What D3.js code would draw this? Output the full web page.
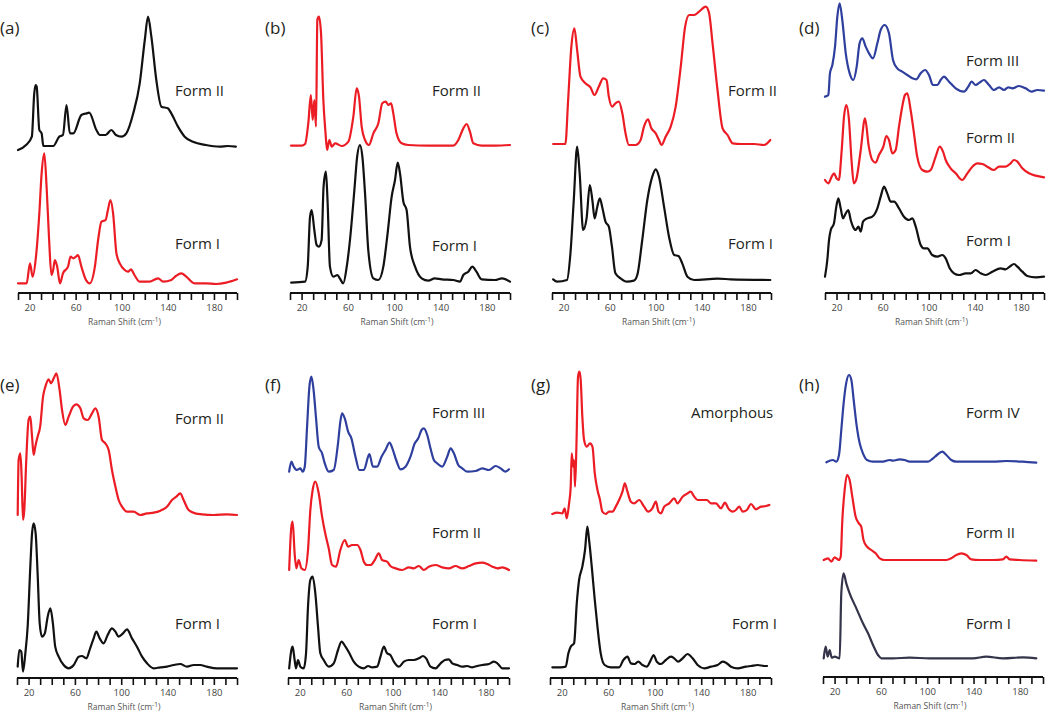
<!DOCTYPE html>
<html><head><meta charset="utf-8">
<script src="https://cdn.jsdelivr.net/npm/d3@7"></script>
<style>
html,body{margin:0;padding:0;background:#fff;}
svg{display:block;}
</style></head>
<body>
<svg id="chart" width="1050" height="718"></svg>
<script>
// ---------------- DATA: [Raman shift (cm-1), intensity (a.u.)] ----------------
const tickValuesMinor = [10,20,30,40,50,60,70,80,90,100,110,120,130,140,150,160,170,180,190,200];
const tickLabels = [20,60,100,140,180];
const shiftDomain = [10,200];

const a_FormII = [[10,-10],[17,5],[22,30],[24.1,160],[25.3,185],[26.2,180],[28.5,50],[30.5,40],[32,2],[40.6,2],[45.8,30],[49,35],[52.1,125],[55,40],[58,40],[65,95],[69.5,100],[71.8,102],[78,50],[81,35],[86,35],[91,50],[95,35],[99.7,30],[104,40],[110,100],[115.6,190],[120,320],[122.8,390],[125.7,330],[130,200],[134.4,120],[140,115],[143,100],[148.8,60],[154.6,30],[161.8,15],[173,5],[185,0],[192,2],[199,0]];
const a_FormI = [[10,0],[17.5,0],[20.4,60],[22.7,20],[25.6,80],[28.5,210],[30.5,330],[32.8,390],[34.8,290],[37,130],[39,25],[40.5,40],[42,70],[44,50],[46.4,0],[49,30],[53.4,50],[55.6,80],[58,75],[60.3,80],[62,85],[65,50],[69,10],[72.3,0],[76.7,50],[79.5,130],[82.4,185],[86,190],[88,220],[90.2,250],[92.5,210],[95.4,90],[98.3,60],[102.6,40],[105.5,35],[108,42],[111,25],[115.6,5],[124,5],[131.5,15],[136,5],[143,10],[147,22],[151.7,30],[156,20],[163,0],[173,0],[181.8,-2],[190.7,2],[200,12]];

const b_FormII = [[10.9,0],[20,0],[23,5],[25.8,67],[28,152],[29.6,77],[31,137],[32.5,57],[33.6,377],[35,387],[36.8,337],[38.8,137],[40.7,37],[42,-13],[44,17],[46,-3],[49,7],[54.6,-1],[60.4,12],[64.7,87],[67.6,172],[69.6,147],[71.9,57],[74.8,17],[78.2,2],[82,37],[86.3,67],[89.7,127],[92.6,132],[95,122],[97.3,127],[99.2,97],[102,37],[106.4,7],[112,2],[129.5,0],[151,0],[155.4,17],[159.7,52],[162.6,65],[165.4,42],[168.3,7],[175.5,0],[187,0],[200,2]];
const b_FormI = [[11,-3],[23,0],[25.3,45],[27.3,195],[28.7,215],[31,155],[33,110],[35,105],[37.3,125],[39,285],[41,330],[42.4,245],[44.5,45],[47.4,15],[51,20],[53,10],[56,-5],[59,45],[61.8,125],[65.6,275],[68,375],[70.4,410],[72.5,375],[74.8,265],[77.6,95],[82,10],[86.3,5],[90.6,45],[94.3,145],[97.8,255],[100.7,305],[103,357],[105,325],[107.9,240],[110.7,215],[113.6,105],[118,45],[123.7,10],[129.5,3],[135,10],[141,7],[151,5],[156.8,0],[159.7,20],[164,30],[167.5,45],[171,30],[175.5,7],[187,5],[193,10],[200,0]];

const c_FormII = [[11,0],[21.6,0],[24,132],[26.8,292],[29.4,347],[31.8,282],[34.7,202],[39,182],[43.4,170],[46.8,147],[50.6,172],[54.4,197],[57.3,192],[59.3,142],[62.2,112],[65,122],[68,127],[71,92],[73.8,32],[76.7,-3],[82.5,-3],[86.9,12],[89.8,52],[93.3,74],[96.2,47],[100,32],[102.8,12],[105,-3],[108.6,22],[113,52],[117.3,112],[121.7,232],[125.5,352],[129,387],[133.3,387],[137.6,397],[143.4,412],[146.3,392],[149.3,302],[153.6,162],[158,47],[162.3,27],[166.7,2],[174,0],[185.5,0],[194,-3],[199.4,12]];
const c_FormI = [[11,2],[14.5,-5],[23,0],[26,80],[28.9,240],[31.8,400],[34,320],[37,150],[40,185],[42.8,285],[45,240],[47,185],[49.3,220],[51.5,245],[53.5,220],[56.4,175],[59.3,160],[62,100],[65,20],[69.5,5],[75,-5],[81,-2],[84,15],[88.3,120],[92.7,240],[97,310],[100,332],[102.8,310],[107.2,220],[111.5,130],[116,75],[119.7,72],[123,50],[127.5,10],[133.3,0],[153.6,4],[165,2],[199.4,0]];

const d_FormIII = [[10,-20],[12.9,-15],[14.3,50],[16.4,75],[18.7,130],[20.7,220],[22.7,260],[25,210],[28,110],[31.4,50],[34.6,30],[37.5,70],[40,140],[42.4,155],[45.3,130],[48.2,110],[51.6,95],[55.4,140],[58.3,180],[61.8,195],[65.5,170],[69,90],[72.7,65],[77,55],[81.4,45],[85.8,35],[89.2,32],[93,50],[96.8,60],[100.2,45],[103.7,15],[107.5,15],[110.3,30],[113.2,40],[117.6,25],[123.4,5],[130.6,-5],[134.3,10],[137.2,25],[140.7,15],[144,22],[147.9,30],[152.3,15],[156.6,0],[161,8],[165.3,0],[169,8],[172.5,5],[178.3,12],[184,5],[189.3,-5],[194.2,0],[200,-2]];
const d_FormII = [[10,-5],[12.9,-15],[15.8,5],[17.8,15],[20,0],[22,-5],[24.5,85],[26.5,185],[28.5,220],[30.8,175],[33,55],[35,-15],[37,-5],[41,85],[44.7,180],[48,95],[51,55],[54,47],[56.8,70],[60.6,95],[63.2,127],[65.5,115],[68.4,75],[71.3,85],[74.2,155],[77,215],[79.4,250],[81.4,255],[84.3,205],[87.2,135],[90,65],[94.4,25],[98.8,20],[101.7,25],[106,65],[109.5,95],[112.4,80],[114.7,55],[119,30],[123.4,15],[129,-5],[133.5,15],[137.8,35],[142.2,45],[146.5,43],[150.8,35],[156.6,25],[161,35],[166.7,35],[171,45],[174,55],[176.9,50],[181.2,30],[187,15],[192.8,8],[200,3]];
const d_FormI = [[10,0],[12,50],[13.5,110],[15,140],[17.8,160],[19.8,210],[21.6,235],[23.6,205],[25.6,175],[28,190],[30.2,200],[32.3,170],[34.3,150],[36.6,140],[39,150],[41,135],[43,165],[46.7,175],[51,180],[55.4,205],[58.3,240],[61.2,270],[64,250],[67,225],[70,225],[74.2,205],[78.5,180],[82.9,170],[85.8,175],[88.7,150],[93,95],[95.9,85],[98.8,85],[103,65],[107.5,60],[111.8,65],[114.7,55],[118.2,25],[121.9,10],[126.3,5],[132,10],[136.4,10],[140.7,20],[145,10],[149.4,5],[155.2,15],[162.4,25],[166.7,22],[170.2,30],[174,38],[176.9,30],[181.2,15],[185.5,2],[192.8,-2],[200,0]];

const e_FormII = [[10.6,0],[11.4,165],[12.9,185],[14,115],[15.2,-15],[16.3,15],[18,165],[20,285],[21.5,295],[23,235],[24.4,180],[25.8,205],[27.8,235],[30,265],[32.5,355],[34.5,385],[37.3,407],[39.4,395],[41.7,410],[44,425],[46.8,375],[48.9,315],[51.7,270],[54.6,295],[58.4,325],[61.2,332],[64.7,320],[67.6,290],[71,285],[74.8,305],[77.6,320],[80.5,295],[83.4,225],[86.3,215],[89.2,195],[92,135],[95,85],[97.8,45],[100.7,25],[105,10],[110.7,10],[116.5,0],[122.3,5],[128,7],[133.8,13],[139.5,25],[143.9,45],[147.6,55],[151,65],[153.9,45],[158.2,15],[164,5],[169.8,2],[179.8,0],[191.4,2],[200,0]];
const e_FormI = [[10.6,5],[12,55],[13.7,50],[15.2,-10],[17.2,45],[19.2,125],[21.5,305],[23,405],[24.4,435],[26.1,405],[27.8,285],[29.6,135],[31.6,95],[34,105],[36.5,155],[38.8,180],[41,135],[43,65],[46,35],[50.3,10],[54.6,0],[59,10],[63.3,35],[66,37],[70,30],[72.7,55],[76.2,90],[78.5,110],[81.4,90],[84.8,75],[88.3,100],[92,120],[95,110],[97.8,95],[101.5,105],[105,117],[109.3,90],[113.6,65],[118,35],[122.3,15],[128,0],[133.8,3],[139.5,5],[145.3,10],[151,13],[156.8,5],[162.6,10],[168.3,10],[174,5],[182.7,0],[200,0]];

const f_FormIII = [[11,0],[12.9,30],[14.9,15],[17.7,5],[20.6,10],[22.6,0],[24.4,15],[26.4,135],[28.4,255],[30.1,285],[32,245],[34,165],[36.4,75],[39.3,55],[41.6,25],[45,0],[49.3,5],[53,85],[55,150],[56.5,175],[58.8,160],[61.7,120],[64.5,100],[68,45],[71.4,5],[75.2,5],[78.9,45],[80,53],[83,15],[86.6,15],[90.4,45],[93.8,65],[97.3,87],[100,67],[103,35],[106.7,7],[111,15],[115.3,45],[119,85],[122,100],[124.8,125],[126.8,130],[129.7,110],[132.5,70],[135.4,35],[138.3,25],[142.6,15],[146.9,45],[149.8,70],[152.6,55],[156.4,20],[159.8,10],[164,0],[171.3,2],[177,10],[182.8,5],[188.5,17],[192.8,10],[197,0],[200,7]];
const f_FormII = [[11,0],[12.9,130],[14,145],[15.7,50],[17.2,5],[19.2,30],[21.5,5],[24.4,0],[27.2,60],[29.2,180],[31.2,240],[33.5,265],[36.4,230],[39.3,160],[42,110],[45,65],[47.9,15],[51.3,10],[55,60],[58.8,90],[61.7,70],[65,75],[69.4,75],[72.3,60],[75.2,25],[78,15],[81,15],[84.6,30],[88,50],[90.9,30],[95.2,25],[98,12],[102.4,5],[108.2,0],[114,8],[118.2,5],[122.5,12],[126.8,0],[131,10],[136.9,15],[142.6,8],[148.3,5],[154,12],[159.8,5],[165.6,12],[171.3,20],[177,22],[181.3,18],[185.7,10],[190,5],[194.3,8],[200,0]];
const f_FormI = [[11,0],[12.9,55],[14,65],[15.7,25],[16.9,0],[18.6,25],[20.6,5],[23.5,0],[25.5,45],[27.2,185],[29.2,265],[31.2,275],[33.5,225],[35.8,125],[37.8,45],[40.7,25],[45,5],[49.3,15],[53,55],[56,80],[59.4,65],[62.8,45],[66.5,20],[70.8,5],[75.2,0],[78.9,7],[82.3,3],[86.6,5],[89.5,35],[92.4,65],[95.2,45],[98,40],[101,20],[105.3,5],[109.6,20],[114,25],[118.2,25],[122.5,30],[126,37],[128.8,30],[132.5,5],[136.9,0],[141.2,15],[144.9,25],[148.3,27],[151.2,15],[155.5,10],[159.8,5],[164,7],[168.4,3],[172.7,7],[177,10],[182.8,13],[187,20],[190,15],[194.3,0],[200,0]];

const g_Amorphous = [[12,0],[16.3,4],[20.6,2],[22.6,17],[24.4,-13],[26.4,32],[27.8,82],[28.7,182],[29.8,142],[30.7,162],[31.5,82],[32.7,202],[34.1,412],[35.3,427],[36.4,402],[37.8,292],[39.3,222],[41.6,202],[44.4,212],[46.5,202],[48.5,122],[50.8,72],[53,42],[55,7],[58,0],[60.8,7],[63.7,7],[66.5,22],[69.4,42],[72.3,67],[74.3,92],[76.6,67],[79.5,37],[82.3,32],[86.6,42],[90.9,22],[94.4,7],[98,17],[101,37],[103.3,7],[105.3,2],[108.2,22],[112.5,32],[116.8,47],[119.6,32],[124,52],[128.3,62],[131,67],[134,52],[136.9,42],[141.2,42],[144.9,42],[148.3,32],[152.7,32],[157,17],[160.4,34],[163.3,17],[167,7],[169.9,12],[172.7,22],[175.6,7],[179.3,12],[182.8,30],[187,14],[191.4,22],[195.7,24],[198.6,27]];
const g_FormI = [[12,0],[19.2,0],[23.5,2],[25.8,42],[27.8,62],[30.7,72],[33,192],[35,262],[37.8,302],[40.1,352],[42.1,422],[43.6,382],[45.9,302],[48.5,202],[50.8,122],[53.6,42],[57,7],[62.2,0],[69.4,0],[73.1,22],[76.6,32],[79.5,12],[82.9,10],[85.8,17],[89.5,7],[93.2,2],[96.7,22],[99,37],[101.8,17],[105.3,10],[109.6,22],[113.9,32],[116.8,27],[120.2,17],[124,27],[128.3,40],[132.6,27],[136.9,7],[142.6,-3],[148.4,2],[154.1,7],[158.4,17],[161.3,14],[165.6,2],[171.3,-3],[178.5,2],[182.8,4],[188.5,7],[194.3,4],[196.6,4]];

const h_FormIV = [[12.9,-2],[18.6,5],[21.5,0],[23.8,20],[25.8,95],[27.8,175],[30,235],[32.5,260],[34.5,245],[36.5,185],[38.8,115],[41.7,55],[44.5,25],[48,5],[53.2,0],[61.8,0],[67.6,5],[70.5,3],[76.2,7],[80.5,5],[84.8,0],[92,0],[100.7,0],[105,10],[108.4,20],[113,30],[116.5,20],[120.8,5],[125.1,0],[139.5,0],[156.8,0],[168.3,2],[182.7,0],[194.2,-3]];
const h_FormII = [[10.6,0],[14.3,5],[17.2,-5],[20,8],[23.8,0],[25.3,10],[26.7,120],[28.7,210],[30.7,255],[33,240],[35.3,190],[38.2,130],[41,110],[43,100],[45,60],[48,40],[51.7,30],[55.5,20],[59,5],[63.2,0],[107.9,0],[116.5,0],[120.8,5],[125.1,15],[129.5,20],[133.8,15],[138,2],[145.3,0],[156.8,0],[165.4,2],[168.3,10],[171.2,2],[179.8,0],[194.2,-2]];
const h_FormI = [[10.6,3],[12.3,38],[14,8],[15.8,28],[17.5,5],[20,8],[24.4,3],[25.8,198],[27.8,258],[30.1,228],[33,198],[38.8,153],[44.5,108],[48.9,78],[53.2,43],[57.5,13],[60.4,3],[70.4,3],[84.8,5],[102,3],[122.2,3],[139.5,3],[151,8],[165.4,3],[182.7,6],[194.2,3]];

// ---------------- LAYOUT / STYLE ----------------
const RED = "#ec1c24", BLACK = "#111111", BLUE = "#2f3f9e", DARK = "#34344a";
const UNITS_PER_PX = 3;

const panels = [
  {label:"(a)", lx:0, ly:34, x0:18, x1:237, axisY:293, traces:[
    {data:a_FormII, color:BLACK, offset:439, name:"Form II", nx:175, ny:96},
    {data:a_FormI, color:RED, offset:29, name:"Form I", nx:175, ny:249}]},
  {label:"(b)", lx:265, ly:34, x0:290, x1:510, axisY:293, traces:[
    {data:b_FormII, color:RED, offset:442, name:"Form II", nx:432, ny:96},
    {data:b_FormI, color:BLACK, offset:34, name:"Form I", nx:432, ny:251}]},
  {label:"(c)", lx:531, ly:34, x0:552, x1:771, axisY:293, traces:[
    {data:c_FormII, color:RED, offset:447, name:"Form II", nx:728, ny:96},
    {data:c_FormI, color:BLACK, offset:39, name:"Form I", nx:728, ny:249}]},
  {label:"(d)", lx:799, ly:34, x0:825, x1:1044, axisY:293, traces:[
    {data:d_FormIII, color:BLUE, offset:609, name:"Form III", nx:966, ny:66},
    {data:d_FormII, color:RED, offset:344, name:"Form II", nx:966, ny:143},
    {data:d_FormI, color:BLACK, offset:49, name:"Form I", nx:966, ny:246}]},
  {label:"(e)", lx:0, ly:391, x0:17, x1:237, axisY:678, traces:[
    {data:e_FormII, color:RED, offset:489, name:"Form II", nx:175, ny:424},
    {data:e_FormI, color:BLACK, offset:29, name:"Form I", nx:175, ny:629}]},
  {label:"(f)", lx:265, ly:391, x0:288, x1:509, axisY:678, traces:[
    {data:f_FormIII, color:BLUE, offset:619, name:"Form III", nx:432, ny:418},
    {data:f_FormII, color:RED, offset:324, name:"Form II", nx:432, ny:538},
    {data:f_FormI, color:BLACK, offset:29, name:"Form I", nx:432, ny:629}]},
  {label:"(g)", lx:531, ly:391, x0:550, x1:771, axisY:678, traces:[
    {data:g_Amorphous, color:RED, offset:492, name:"Amorphous", nx:691, ny:418},
    {data:g_FormI, color:BLACK, offset:32, name:"Form I", nx:732, ny:629}]},
  {label:"(h)", lx:799, ly:391, x0:823, x1:1043, axisY:677, traces:[
    {data:h_FormIV, color:BLUE, offset:646, name:"Form IV", nx:966, ny:418},
    {data:h_FormII, color:RED, offset:351, name:"Form II", nx:966, ny:538},
    {data:h_FormI, color:DARK, offset:53, name:"Form I", nx:966, ny:629}]}
];

const svg = d3.select("#chart");
const FONT = "'Open Sans','Noto Sans','DejaVu Sans',sans-serif";

panels.forEach(p => {
  const g = svg.append("g");
  const x = d3.scaleLinear().domain(shiftDomain).range([p.x0, p.x1]);
  const y = d3.scaleLinear().domain([0, 290*UNITS_PER_PX]).range([p.axisY, p.axisY - 290]);

  // spectra
  p.traces.forEach(t => {
    const line = d3.line()
      .x(d => x(d[0]))
      .y(d => y(d[1] + t.offset))
      .curve(d3.curveMonotoneX);
    g.append("path").datum(t.data)
      .attr("d", line)
      .attr("fill", "none")
      .attr("stroke", t.color)
      .attr("stroke-width", 2.2)
      .attr("stroke-linejoin", "round")
      .attr("stroke-linecap", "round");
    g.append("text").attr("x", t.nx).attr("y", t.ny)
      .attr("font-family", FONT).attr("font-size", 15)
      .attr("fill", "#231f20").text(t.name);
  });

  // axis
  const axis = d3.axisBottom(x).tickValues(tickValuesMinor).tickSize(7).tickPadding(4)
    .tickFormat(d => tickLabels.includes(d) ? d : "");
  const ag = g.append("g").attr("transform", `translate(0,${p.axisY})`).call(axis);
  ag.select(".domain").attr("stroke", "#111").attr("stroke-width", 2).attr("d", `M${p.x0},0H${p.x1}`);
  ag.selectAll(".tick line").attr("stroke", "#111").attr("stroke-width", 1.6);
  ag.selectAll(".tick text").attr("font-family", FONT).attr("font-size", 9.5).attr("fill", "#444");

  // axis title
  const tt = g.append("text")
    .attr("x", (p.x0 + p.x1)/2 - 3).attr("y", p.axisY + 32)
    .attr("text-anchor", "middle")
    .attr("font-family", FONT).attr("font-size", 8.5).attr("fill", "#555");
  tt.append("tspan").text("Raman Shift (cm");
  tt.append("tspan").attr("dy", -3).attr("font-size", 6.5).text("-1");
  tt.append("tspan").attr("dy", 3).text(")");

  // panel label
  g.append("text").attr("x", p.lx).attr("y", p.ly)
    .attr("font-family", FONT).attr("font-size", 17).attr("fill", "#231f20").text(p.label);
});
</script>
</body></html>
